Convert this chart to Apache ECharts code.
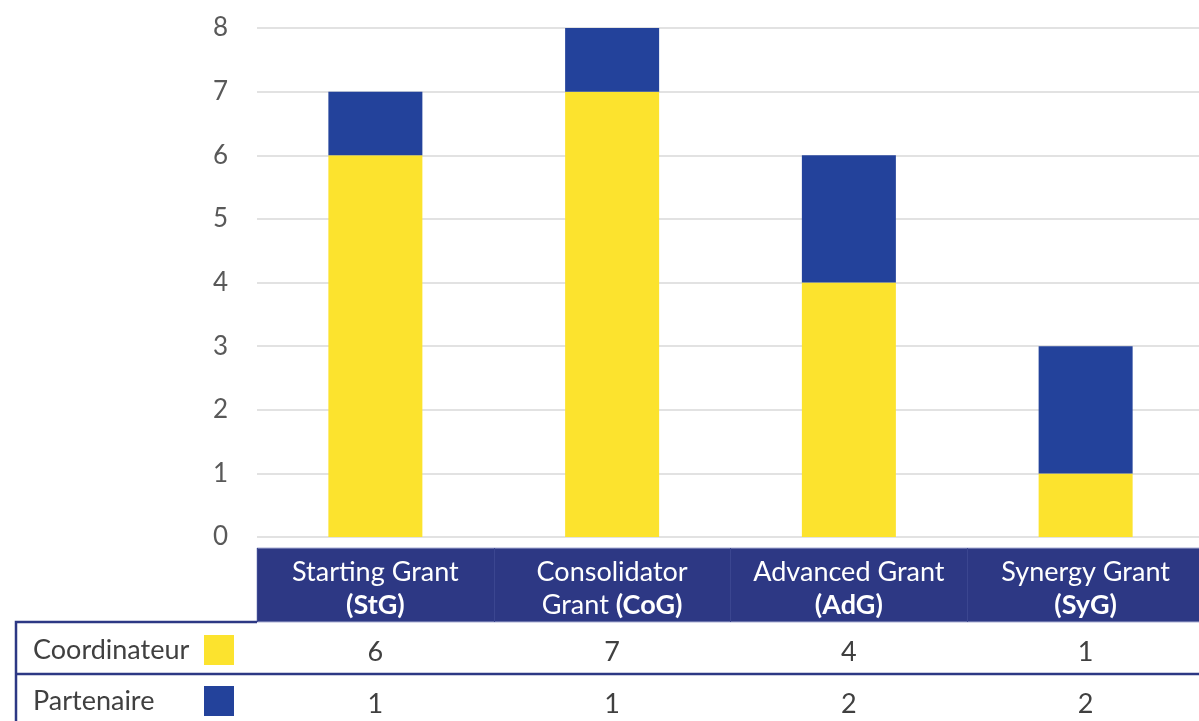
<!DOCTYPE html>
<html>
<head>
<meta charset="utf-8">
<style>
  html, body { margin: 0; padding: 0; background: #ffffff; overflow: hidden; }
  #chart { width: 1210px; height: 721px; }
</style>
<script src="https://cdn.jsdelivr.net/npm/echarts@6/dist/echarts.min.js"></script>
</head>
<body>
<div id="chart"></div>
<script>
// Grant types (first line) and their abbreviations (bold second part)
const grantNames = ['Starting Grant', 'Consolidator\nGrant ', 'Advanced Grant', 'Synergy Grant'];
const grantCodes = ['(StG)', '(CoG)', '(AdG)', '(SyG)'];
const categories = ['StG', 'CoG', 'AdG', 'SyG'];

// Number of projects per role
const coordinateur = [6, 7, 4, 1];
const partenaire = [1, 1, 2, 2];

const seriesNames = ['Coordinateur', 'Partenaire'];
const yTicks = { min: 0, max: 8, interval: 1 };

const YELLOW = '#FCE32E';
const BLUE = '#23429B';
const NAVY = '#2D3884';
const FONT = 'Lato, "Open Sans", sans-serif';
const FS = 27;

// Plot area and table layout (the table runs past the right edge of the view)
const G = { left: 257, top: 28, width: 947, height: 509 };
const HEAD_TOP = 548, HEAD_H = 74;
const ROW_SPLIT = 674, TABLE_LEFT = 16, TABLE_TOP = 622;

function headerLabel(value, idx) {
  const name = grantNames[idx];
  const code = grantCodes[idx];
  if (name.indexOf('\n') >= 0) {
    const parts = name.split('\n');
    return '{n|' + parts[0] + '}\n{n|' + parts[1] + '}{b|' + code + '}';
  }
  return '{n|' + name + '}\n{b|' + code + '}';
}

// One legend per table row: name on the left, colour swatch in a fixed column
function legendFor(name, top) {
  return {
    orient: 'horizontal',
    left: 33,
    top: top,
    padding: 0,
    align: 'right',
    itemWidth: 30,
    itemHeight: 30,
    icon: 'rect',
    selectedMode: false,
    data: [name],
    formatter: n => '{t|' + n + '}',
    textStyle: {
      fontFamily: FONT, fontSize: FS, color: '#404040',
      rich: { t: { fontFamily: FONT, fontSize: FS, color: '#404040', width: 166, align: 'left' } }
    }
  };
}

const chart = echarts.init(document.getElementById('chart'), null, { renderer: 'canvas' });

chart.setOption({
  animation: false,
  backgroundColor: '#ffffff',
  textStyle: { fontFamily: FONT },
  grid: { left: G.left, top: G.top, width: G.width, height: G.height, containLabel: false },
  legend: [legendFor(seriesNames[0], 635), legendFor(seriesNames[1], 686)],
  xAxis: [
    {
      // category labels inside the navy header band
      type: 'category',
      data: categories,
      position: 'bottom',
      z: 10,
      axisLine: { show: false },
      axisTick: { show: false },
      axisLabel: {
        interval: 0,
        margin: 19,
        formatter: headerLabel,
        rich: {
          n: { color: '#ffffff', fontSize: FS, fontFamily: FONT, lineHeight: 33 },
          b: { color: '#ffffff', fontSize: FS, fontFamily: FONT, fontWeight: 'bold', lineHeight: 33 }
        }
      }
    },
    {
      // column dividers in the header band
      type: 'category',
      data: categories,
      position: 'bottom',
      offset: HEAD_TOP - (G.top + G.height),
      z: 10,
      axisLine: { show: false },
      axisTick: { show: true, length: HEAD_H, lineStyle: { color: '#3B4690', width: 1 } },
      axisLabel: { show: false }
    },
    {
      // Coordinateur row of the data table
      type: 'category',
      data: categories,
      position: 'bottom',
      axisLine: { show: false },
      axisTick: { show: false },
      axisLabel: {
        interval: 0,
        margin: 102,
        fontSize: FS,
        color: '#404040',
        fontFamily: FONT,
        formatter: (v, i) => String(coordinateur[i])
      }
    },
    {
      // Partenaire row of the data table
      type: 'category',
      data: categories,
      position: 'bottom',
      axisLine: { show: false },
      axisTick: { show: false },
      axisLabel: {
        interval: 0,
        margin: 154,
        fontSize: FS,
        color: '#404040',
        fontFamily: FONT,
        formatter: (v, i) => String(partenaire[i])
      }
    }
  ],
  yAxis: {
    type: 'value',
    min: yTicks.min,
    max: yTicks.max,
    interval: yTicks.interval,
    axisLine: { show: false },
    axisTick: { show: false },
    axisLabel: { fontSize: 26, color: '#595959', margin: 29, fontFamily: FONT },
    splitLine: { lineStyle: { color: '#D9D9D9', width: 1.5 } }
  },
  graphic: [
    {
      type: 'rect',
      z: 1,
      shape: { x: G.left, y: HEAD_TOP, width: G.width + 10, height: HEAD_H },
      style: { fill: NAVY, stroke: '#A9AED3', lineWidth: 1 }
    },
    {
      type: 'polyline',
      z: 5,
      shape: { points: [[TABLE_LEFT, 721], [TABLE_LEFT, TABLE_TOP], [G.left, TABLE_TOP]] },
      style: { stroke: NAVY, lineWidth: 2.5, fill: null }
    },
    {
      type: 'line',
      z: 5,
      shape: { x1: TABLE_LEFT, y1: ROW_SPLIT, x2: G.left + G.width, y2: ROW_SPLIT },
      style: { stroke: NAVY, lineWidth: 2.5 }
    }
  ],
  series: [
    {
      name: seriesNames[0],
      type: 'bar',
      stack: 'total',
      barWidth: 94,
      itemStyle: { color: YELLOW },
      data: coordinateur
    },
    {
      name: seriesNames[1],
      type: 'bar',
      stack: 'total',
      barWidth: 94,
      itemStyle: { color: BLUE },
      data: partenaire
    }
  ]
});
</script>
</body>
</html>
